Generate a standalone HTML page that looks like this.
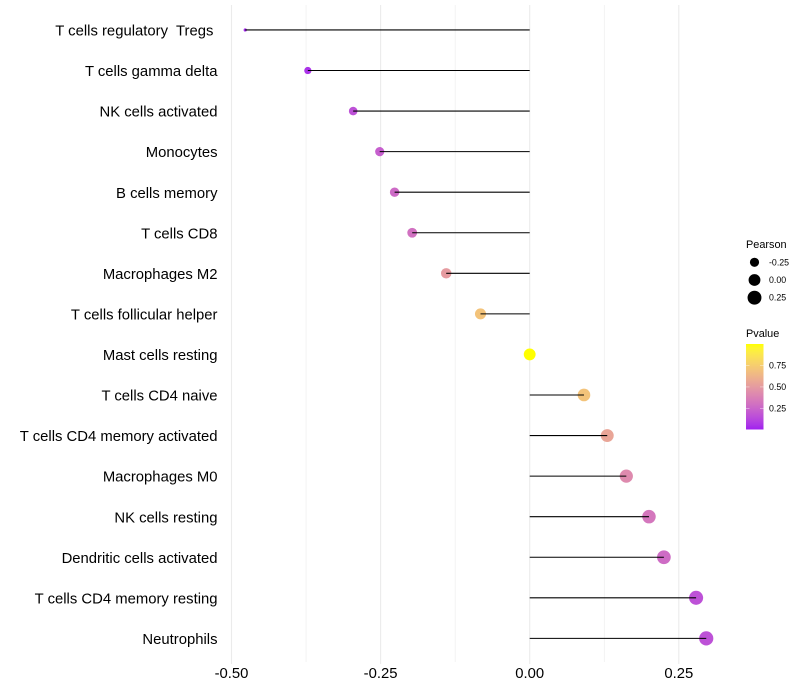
<!DOCTYPE html>
<html lang="en">
<head>
<meta charset="utf-8">
<title>Immune cell correlation lollipop chart</title>
<style>
html,body{margin:0;padding:0;background:#fff;}
svg{display:block;font-family:"Liberation Sans",sans-serif;}
text{white-space:pre;}
</style>
</head>
<body>
<svg id="chart" width="800" height="700" viewBox="0 0 800 700" xmlns="http://www.w3.org/2000/svg">
  <defs>
    <linearGradient id="pvalue-gradient" x1="0" y1="1" x2="0" y2="0"></linearGradient>
  </defs>
  <g id="grid"></g>
  <g id="marks"></g>
  <g id="y-labels"></g>
  <g id="x-labels"></g>
  <g id="size-legend">
    <text x="746" y="248" font-size="10.9" fill="#000">Pearson</text>
  </g>
  <g id="color-legend">
    <text x="746" y="337" font-size="10.9" fill="#000">Pvalue</text>
    <rect x="746" y="344" width="17.5" height="85.5" fill="url(#pvalue-gradient)"></rect>
  </g>
</svg>
<script>
const categories = ["T cells regulatory  Tregs ", "T cells gamma delta", "NK cells activated", "Monocytes", "B cells memory", "T cells CD8", "Macrophages M2", "T cells follicular helper", "Mast cells resting", "T cells CD4 naive", "T cells CD4 memory activated", "Macrophages M0", "NK cells resting", "Dendritic cells activated", "T cells CD4 memory resting", "Neutrophils"];
const pearsonValues = [-0.477, -0.372, -0.296, -0.2515, -0.2265, -0.197, -0.14, -0.0825, 0, 0.091, 0.13, 0.162, 0.2, 0.225, 0.279, 0.296];
const pvalueValues = [0.02, 0.05, 0.16, 0.22, 0.27, 0.3, 0.5, 0.7, 1.0, 0.7, 0.55, 0.42, 0.33, 0.28, 0.16, 0.16];
const xMajorTicks = [-0.5, -0.25, 0, 0.25];
const xMinorTicks = [-0.375, -0.125, 0.125];
const xTickLabels = ["-0.50", "-0.25", "0.00", "0.25"];
const sizeLegendValues = [-0.25, 0, 0.25];
const sizeLegendLabels = ["-0.25", "0.00", "0.25"];
const colorLegendValues = [0.25, 0.5, 0.75];
const colorLegendLabels = ["0.25", "0.50", "0.75"];

const NS = "http://www.w3.org/2000/svg";
function x(v) { return 529.7 + 596.4 * v; }
function y(i) { return 29.95 + 40.56 * i; }
function colorbarY(p) { return 429.5 - (p - 0.007) * 86.3; }

function radius(v) {
  const lo = Math.min(...pearsonValues), hi = Math.max(...pearsonValues);
  const t = Math.max(0, Math.min(1, (v - lo) / ((hi - lo) || 1)));
  return 1.1 * (1 + 5 * Math.sqrt(t)) + 0.5;
}

function srgbToLab(c) {
  const lin = c.map(u => { u /= 255; return u <= 0.04045 ? u / 12.92 : Math.pow((u + 0.055) / 1.055, 2.4); });
  const X = (0.4124 * lin[0] + 0.3576 * lin[1] + 0.1805 * lin[2]) / 0.95047;
  const Y = 0.2126 * lin[0] + 0.7152 * lin[1] + 0.0722 * lin[2];
  const Z = (0.0193 * lin[0] + 0.1192 * lin[1] + 0.9505 * lin[2]) / 1.08883;
  const f = t => t > 0.008856 ? Math.cbrt(t) : 7.787 * t + 16 / 116;
  return [116 * f(Y) - 16, 500 * (f(X) - f(Y)), 200 * (f(Y) - f(Z))];
}
function labToCss(l) {
  const fy = (l[0] + 16) / 116, fx = fy + l[1] / 500, fz = fy - l[2] / 200;
  const g = t => t * t * t > 0.008856 ? t * t * t : (t - 16 / 116) / 7.787;
  const X = g(fx) * 0.95047, Y = g(fy), Z = g(fz) * 1.08883;
  const rgb = [3.2406 * X - 1.5372 * Y - 0.4986 * Z, -0.9689 * X + 1.8758 * Y + 0.0415 * Z, 0.0557 * X - 0.204 * Y + 1.057 * Z];
  const out = rgb.map(u => {
    u = u <= 0.0031308 ? 12.92 * u : 1.055 * Math.pow(Math.max(u, 0), 1 / 2.4) - 0.055;
    return Math.round(Math.max(0, Math.min(1, u)) * 255);
  });
  return "rgb(" + out.join(",") + ")";
}
const labLow = srgbToLab([160, 32, 240]);
const labHigh = srgbToLab([255, 255, 0]);
function color(p) {
  return labToCss(labLow.map((a, k) => a + (labHigh[k] - a) * p));
}

function make(parent, tag, attrs, text) {
  const el = document.createElementNS(NS, tag);
  Object.keys(attrs).forEach(k => el.setAttribute(k, attrs[k]));
  if (text !== undefined) el.textContent = text;
  parent.appendChild(el);
  return el;
}

const grid = document.getElementById("grid");
const marks = document.getElementById("marks");
const yLabels = document.getElementById("y-labels");
const xLabels = document.getElementById("x-labels");
const sizeLegend = document.getElementById("size-legend");
const colorLegend = document.getElementById("color-legend");

xMinorTicks.forEach(t => {
  const el = make(grid, "line", { x1: x(t), x2: x(t), y1: 5, y2: 662, stroke: "#ebebeb", "stroke-width": 0.55 });
  
  
});
xMajorTicks.forEach((t, i) => {
  const el = make(grid, "line", { x1: x(t), x2: x(t), y1: 5, y2: 664, stroke: "#ebebeb", "stroke-width": 1.07 });
  
  
  const lab = make(xLabels, "text", { x: x(t), y: 678, "font-size": 14.85, "text-anchor": "middle", fill: "#000" }, xTickLabels[i]);
  
  
});

categories.forEach((name, i) => {
  const v = pearsonValues[i];
  const dot = make(marks, "circle", { cx: x(v), cy: y(i), r: radius(v), fill: color(pvalueValues[i]) });
  
  
  const seg = make(marks, "line", { x1: x(0), x2: x(v), y1: y(i), y2: y(i), stroke: "#000", "stroke-width": 1.07 });
  
  
  const lab = make(yLabels, "text", { x: 217.5, y: y(i) + 5.6, "font-size": 14.85, "text-anchor": "end", fill: "#000" }, name);
  
  
});

sizeLegendValues.forEach((v, i) => {
  const cy = 262.3 + 17.7 * i;
  const dot = make(sizeLegend, "circle", { cx: 754.5, cy: cy, r: radius(v), fill: "#000" });
  
  
  const lab = make(sizeLegend, "text", { x: 769, y: cy + 3, "font-size": 8.8, fill: "#000" }, sizeLegendLabels[i]);
  
  
});

const gradient = document.getElementById("pvalue-gradient");
for (let k = 0; k <= 20; k++) {
  make(gradient, "stop", { offset: k / 20, "stop-color": color(k / 20) });
}

colorLegendValues.forEach((p, i) => {
  const cy = colorbarY(p);
  [[746, 749.5], [760, 763.5]].forEach(span => {
    const tick = make(colorLegend, "line", { x1: span[0], x2: span[1], y1: cy, y2: cy, stroke: "#fff", "stroke-width": 0.4 });
    
    
  });
  const lab = make(colorLegend, "text", { x: 769, y: cy + 3, "font-size": 8.8, fill: "#000" }, colorLegendLabels[i]);
  
  
});
</script>
</body>
</html>
